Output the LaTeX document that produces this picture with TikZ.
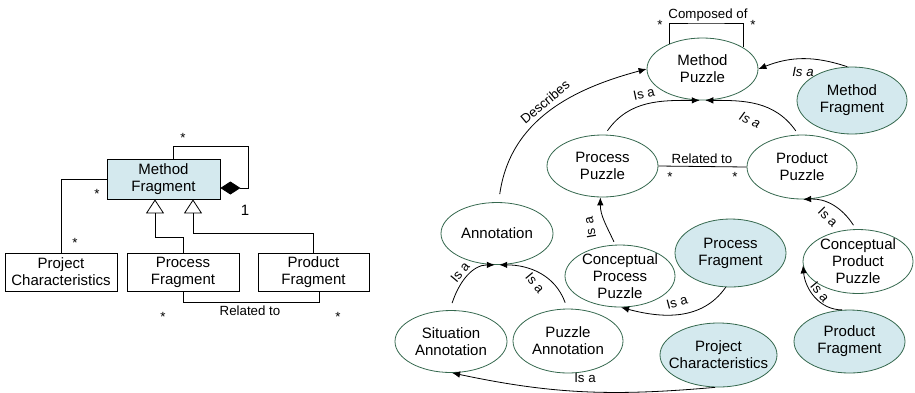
\documentclass[tikz,border=0pt]{standalone}
\usepackage{fontspec}
\setmainfont{Liberation Sans}
\usetikzlibrary{shapes.geometric,arrows.meta,calc}
\definecolor{ellc}{HTML}{35684E}
\definecolor{fillb}{HTML}{D4E9EE}
\begin{document}
\begin{tikzpicture}[x=1pt,y=-1pt,
  big/.style={font=\fontsize{15}{17}\selectfont, align=center},
  lbl/.style={font=\fontsize{13.3}{15}\selectfont, inner sep=0pt},
  ilbl/.style={lbl, font=\fontsize{13.3}{15}\selectfont\itshape},
  ell/.style 2 args={ellipse, draw=ellc, line width=0.8pt, inner sep=0pt,
     minimum width=#1pt, minimum height=#2pt},
  box/.style={draw=black, line width=0.8pt, inner sep=0pt, big},
  conn/.style={black, line width=0.8pt},
  isa/.style={conn, -{Latex[length=8pt,width=6.5pt]}},
  gen/.style={conn, -{Triangle[open,length=14pt,width=18pt]}},
  comp/.style={conn, -{Diamond[length=20pt,width=13pt]}}
]
\useasboundingbox (0,0) rectangle (915,392);

% ---------------- left: class diagram ----------------
\node[box, fill=fillb, minimum width=113pt, minimum height=40pt] (MFb) at (163.5,179) {Method\\Fragment};
\node[box, minimum width=112pt, minimum height=38pt] (PjC) at (61,272) {Project\\Characteristics};
\node[box, minimum width=112pt, minimum height=38pt] (PrcF) at (183,272) {Process\\Fragment};
\node[box, minimum width=111pt, minimum height=38pt] (PdF) at (313.5,272) {Product\\Fragment};

\coordinate (lp) at (248,188);
\draw[comp] ([xshift=9.5pt]MFb.north) -- ++(0,-12) -| (lp) -- ([yshift=-9pt]MFb.east);
\draw[conn] (MFb.west) -| (PjC.north);
\draw[gen] (PrcF.north) -- ++(0,-15) -| ([xshift=-8.5pt]MFb.south);
\draw[gen] (PdF.north) -- ++(0,-19) -| ([xshift=29.5pt]MFb.south);
\draw[conn] (PrcF.south) -- ++(0,11) -| ([xshift=5.5pt]PdF.south);

\node[lbl] (s1) at (183,138) {*};
\node[lbl, font=\fontsize{15}{17}\selectfont] (one) at (245,210) {1};
\node[lbl] (s2) at (97,194) {*};
\node[lbl] (s3) at (75,243) {*};
\node[lbl] (rel1) at (250,311) {Related to};
\node[lbl] (s4) at (163,317) {*};
\node[lbl] (s5) at (338,317) {*};

% ---------------- right: puzzle diagram ----------------
\node[ell={111}{62}, label={[big]center:Method\\Puzzle}] (MP) at (702.5,69) {};
\node[ell={110}{67}, fill=fillb, label={[big]center:Method\\Fragment}] (MF) at (852,100.5) {};
\node[ell={111}{62}, label={[big]center:Process\\Puzzle}] (PP) at (602.5,166) {};
\node[ell={110}{64}, label={[big]center:Product\\Puzzle}] (PrP) at (802,167) {};
\node[ell={112}{62}, label={[big]center:Annotation}] (An) at (497,233.5) {};
\node[ell={110}{62}, label={[big]center:Conceptual\\Process\\Puzzle}] (CPP) at (620,276) {};
\node[ell={111}{68}, fill=fillb, label={[big]center:Process\\Fragment}] (PF) at (730.5,253) {};
\node[ell={110}{64}, label={[big]center:Conceptual\\Product\\Puzzle}] (CPrP) at (858,261.5) {};
\node[ell={112}{62}, label={[big]center:Situation\\Annotation}] (SA) at (451,341.5) {};
\node[ell={110}{64}, label={[big]center:Puzzle\\Annotation}] (PA) at (568,341) {};
\node[ell={117}{64}, fill=fillb, label={[big]center:Project\\Characteristics}] (PC) at (718.5,355) {};
\node[ell={111}{63}, fill=fillb, label={[big]center:Product\\Fragment}] (PrF) at (849.5,341.5) {};

% composed of
\coordinate (ctop) at (706,23);
\draw[conn] (MP.142.4) |- (ctop) -| (MP.28.9);
\node[lbl] (comp) at (708,15) {Composed of};
\node[lbl] (s6) at (660,25) {*};
\node[lbl] (s7) at (753,25) {*};

% related to
\draw[conn] (PP.east) -- (PrP.west);
\node[lbl] (rel2) at (702,159) {Related to};
\node[lbl] (s8) at (670,177) {*};
\node[lbl] (s9) at (735,177) {*};

% is a connectors
\draw[isa] (MF.98.7) to[bend right=20] (MP.0);
\node[ilbl] (i1) at (803,72) {Is a};

\draw[isa] ([yshift=4pt]PP.81) to[out=55,in=180] (MP.-95);
\node[lbl, rotate=12] (i2) at (644,94) {Is a};

\draw[isa] ([yshift=4pt]PrP.101) to[out=125,in=0] (MP.-85);
\node[ilbl, rotate=-25] (i3) at (750,120) {Is a};

\draw[isa] ([yshift=8pt]An.85) to[out=82,in=195] (MP.180);
\node[lbl, rotate=40] (desc) at (545,102) {Describes};

\draw[isa] ([yshift=3pt]CPP.101.6) to[out=115,in=-90] (PP.-94);
\node[lbl, rotate=100] (i4) at (590,228) {Is a};

\draw[isa] (PF.-98) to[out=-125,in=-15] (CPP.-88);
\node[lbl, rotate=15] (i5) at (677,302) {Is a};

\draw[isa] ([yshift=7pt]SA.88) to[out=72,in=180] (An.-94);
\node[lbl, rotate=50] (i6) at (460,272) {Is a};

\draw[isa] ([yshift=6pt]PA.95) to[out=110,in=0] (An.-86);
\node[lbl, rotate=-50] (i7) at (535,283) {Is a};

\draw[isa] (PC.-96) to[out=185,in=-12] (SA.-88);
\node[lbl] (i8) at (585,378) {Is a};

\draw[isa] ([yshift=4pt]CPrP.98) to[bend right=30] (PrP.-88);
\node[lbl, rotate=-45] (i9) at (828,217) {Is a};

\draw[isa] (PrF.103) to[out=180,in=-85] (CPrP.184);
\node[lbl, rotate=-50] (i10) at (820,292) {Is a};
\end{tikzpicture}
\end{document}
